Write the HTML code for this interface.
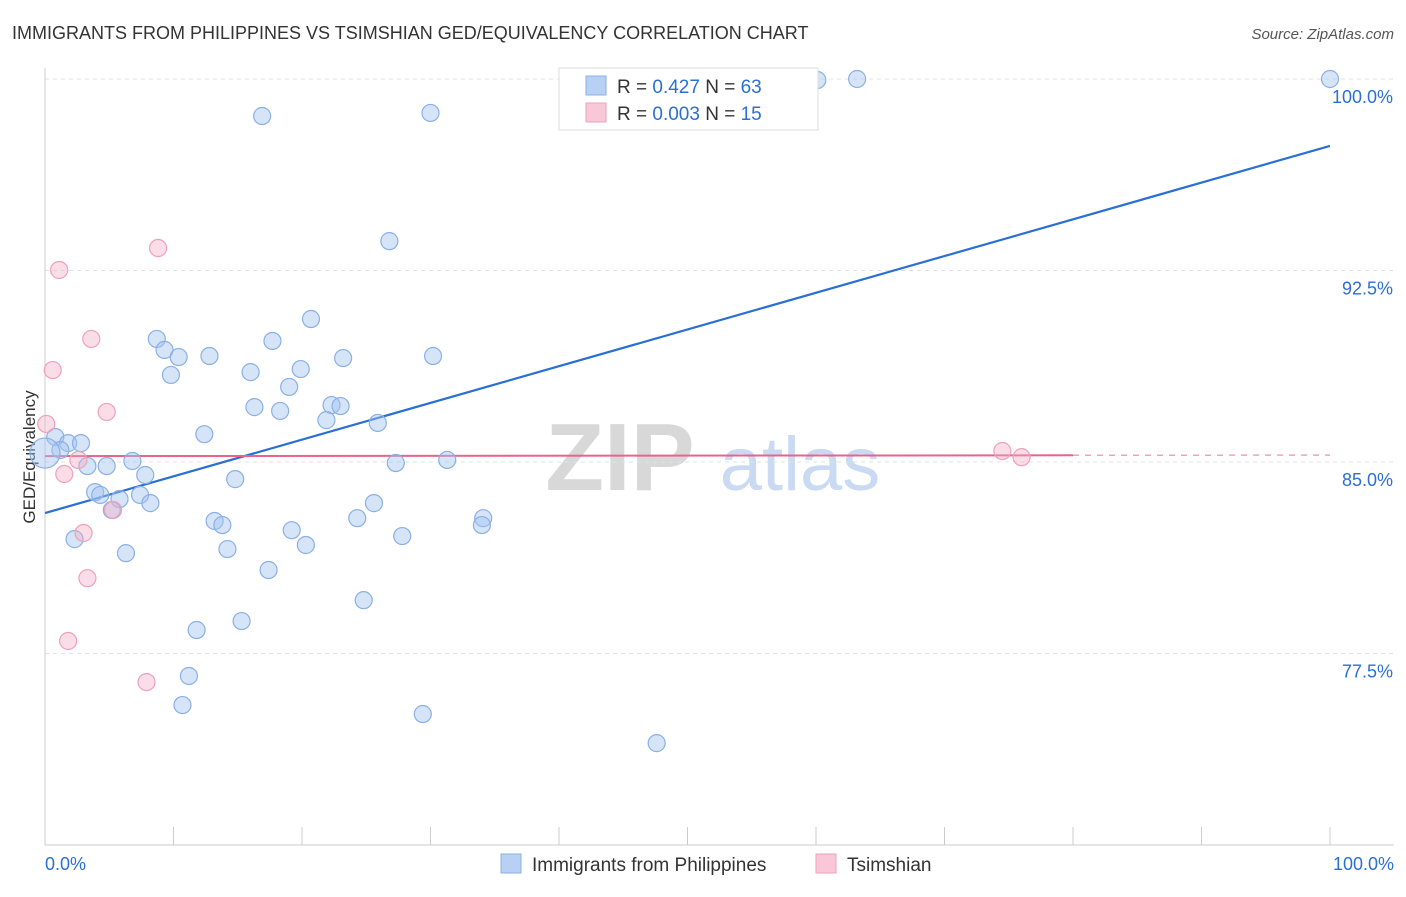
<!DOCTYPE html>
<html><head><meta charset="utf-8"><style>
body{margin:0;background:#fff;font-family:"Liberation Sans",sans-serif;}
svg text{font-family:"Liberation Sans",sans-serif;}
</style></head><body>
<svg id="c" width="1406" height="892">
<text x="12" y="39" font-size="18" fill="#333">IMMIGRANTS FROM PHILIPPINES VS TSIMSHIAN GED/EQUIVALENCY CORRELATION CHART</text>
<text x="1394" y="39" font-size="15" fill="#555" font-style="italic" text-anchor="end">Source: ZipAtlas.com</text>
<g>
<text x="620" y="490" font-size="96" fill="#d8d8d8" font-family="Liberation Serif" text-anchor="middle" font-weight="bold">ZIP</text>
<text x="800" y="490" font-size="76" fill="#c9daf2" text-anchor="middle">atlas</text>
</g>
<text transform="translate(35,457) rotate(-90)" font-size="17" fill="#333" text-anchor="middle">GED/Equivalency</text>
<g id="grid"></g><g id="axes"></g><g id="lines"></g><g id="pts"></g>
<g>
<rect x="559" y="68" width="259" height="62" fill="#fff" stroke="#ddd"/>
<rect x="586" y="76" width="20" height="19" fill="#b8d0f4" stroke="#8ab0e6"/>
<text x="617" y="93" font-size="19" fill="#333">R = <tspan fill="#2a6fd6">0.427</tspan>   N = <tspan fill="#2a6fd6">63</tspan></text>
<rect x="586" y="103" width="20" height="19" fill="#f8c8d8" stroke="#f0a0bb"/>
<text x="617" y="120" font-size="19" fill="#333">R = <tspan fill="#2a6fd6">0.003</tspan>   N = <tspan fill="#2a6fd6">15</tspan></text>
</g>
<g>
<rect x="501" y="854" width="20" height="19" fill="#b8d0f4" stroke="#8ab0e6"/>
<text x="532" y="871" font-size="19" fill="#333">Immigrants from Philippines</text>
<rect x="816" y="854" width="20" height="19" fill="#f8c8d8" stroke="#f0a0bb"/>
<text x="847" y="871" font-size="19" fill="#333">Tsimshian</text>
</g>
<text x="45" y="870" font-size="18" fill="#2a6fd6">0.0%</text>
<text x="1394" y="870" font-size="18" fill="#2a6fd6" text-anchor="end">100.0%</text>
</svg>
<script>
const yTicks=[100,92.5,85,77.5];
const yTickLabels=["100.0%","92.5%","85.0%","77.5%"];
const xTicks=[0,10,20,30,40,50,60,70,80,90,100];
const blueX=[16.9,30.0,60.1,63.2,100,26.8,20.7,8.7,17.7,9.3,10.4,12.8,23.2,30.2,19.9,9.8,16.0,19.0,16.3,18.3,22.3,23.0,21.9,25.9,12.4,0.8,1.8,2.8,1.2,0,3.3,4.8,6.8,27.3,31.3,7.8,14.8,3.9,4.3,5.8,7.4,8.2,5.2,25.6,13.2,13.8,24.3,34.1,34.0,19.2,27.8,2.3,20.3,14.2,6.3,17.4,24.8,11.8,15.3,11.2,10.7,29.4,47.6];
const blueY=[98.55,98.67,99.96,100,100,93.65,90.6,89.82,89.74,89.39,89.11,89.15,89.07,89.15,88.64,88.41,88.52,87.94,87.15,87.0,87.23,87.19,86.64,86.53,86.09,85.98,85.74,85.74,85.47,85.35,84.84,84.84,85.04,84.96,85.08,84.49,84.33,83.82,83.71,83.55,83.71,83.39,83.12,83.39,82.69,82.53,82.8,82.8,82.53,82.33,82.1,81.98,81.75,81.59,81.43,80.77,79.59,78.42,78.77,76.62,75.48,75.13,73.99];
const pinkX=[0.1,0.6,1.1,8.8,3.6,4.8,2.6,1.5,5.3,3.0,3.3,1.8,7.9,74.5,76.0];
const pinkY=[86.49,88.6,92.52,93.38,89.82,86.96,85.08,84.53,83.12,82.22,80.45,77.99,76.38,85.43,85.19];
const blueTrend=[83.0,97.38];
const pinkTrend=[85.23,85.27];
const pinkTrendEnd=80;
const X0=45,X1=1330,Y0=845,Y1=79;
const sx=v=>X0+(v/100)*(X1-X0);
const sy=v=>Y1+(100-v)/30*(Y0-Y1);
const NS="http://www.w3.org/2000/svg";
function mk(tag,attrs,parent){const e=document.createElementNS(NS,tag);for(const k in attrs)e.setAttribute(k,attrs[k]);document.getElementById(parent).appendChild(e);return e;}
yTicks.forEach((t,i)=>{
 const g=mk('line',{x1:X0,x2:1394,y1:sy(t),y2:sy(t),stroke:'#e2e2e2','stroke-dasharray':'4,4'},'grid');
 
 
 const tx=mk('text',{x:1393,y:sy(t)+24,'font-size':18,fill:'#2a6fd6','text-anchor':'end'},'grid');
 tx.textContent=yTickLabels[i];
 
 
});
const ya=mk('line',{x1:X0,x2:X0,y1:68,y2:Y0,stroke:'#ccc'},'axes');


const xa=mk('line',{x1:X0,x2:1394,y1:Y0,y2:Y0,stroke:'#ccc'},'axes');


xTicks.forEach(t=>{
 const l=mk('line',{x1:sx(t),x2:sx(t),y1:827,y2:Y0,stroke:'#ccc'},'axes');
 
 
});
const bl=mk('line',{x1:sx(0),y1:sy(blueTrend[0]),x2:sx(100),y2:sy(blueTrend[1]),stroke:'#2a6fd6','stroke-width':2.2},'lines');


const pyAt=x=>pinkTrend[0]+(pinkTrend[1]-pinkTrend[0])*x/100;
const pl=mk('line',{x1:sx(0),y1:sy(pyAt(0)),x2:sx(pinkTrendEnd),y2:sy(pyAt(pinkTrendEnd)),stroke:'#e8648a','stroke-width':2},'lines');


const pd=mk('line',{x1:sx(pinkTrendEnd),y1:sy(pyAt(pinkTrendEnd)),x2:sx(100),y2:sy(pyAt(100)),stroke:'#f0a0bb','stroke-width':1.5,'stroke-dasharray':'6,6'},'lines');


blueX.forEach((x,i)=>{
 const r=(x===0)?15:8.5;
 const c=mk('circle',{cx:sx(x),cy:sy(blueY[i]),r:r,fill:'rgba(164,196,240,0.45)',stroke:'#8ab0e6','stroke-width':1.2},'pts');
 
 
});
pinkX.forEach((x,i)=>{
 const c=mk('circle',{cx:sx(x),cy:sy(pinkY[i]),r:8.5,fill:'rgba(244,170,195,0.4)',stroke:'#f0a0bb','stroke-width':1.2},'pts');
 
 
});
</script>
</body></html>
